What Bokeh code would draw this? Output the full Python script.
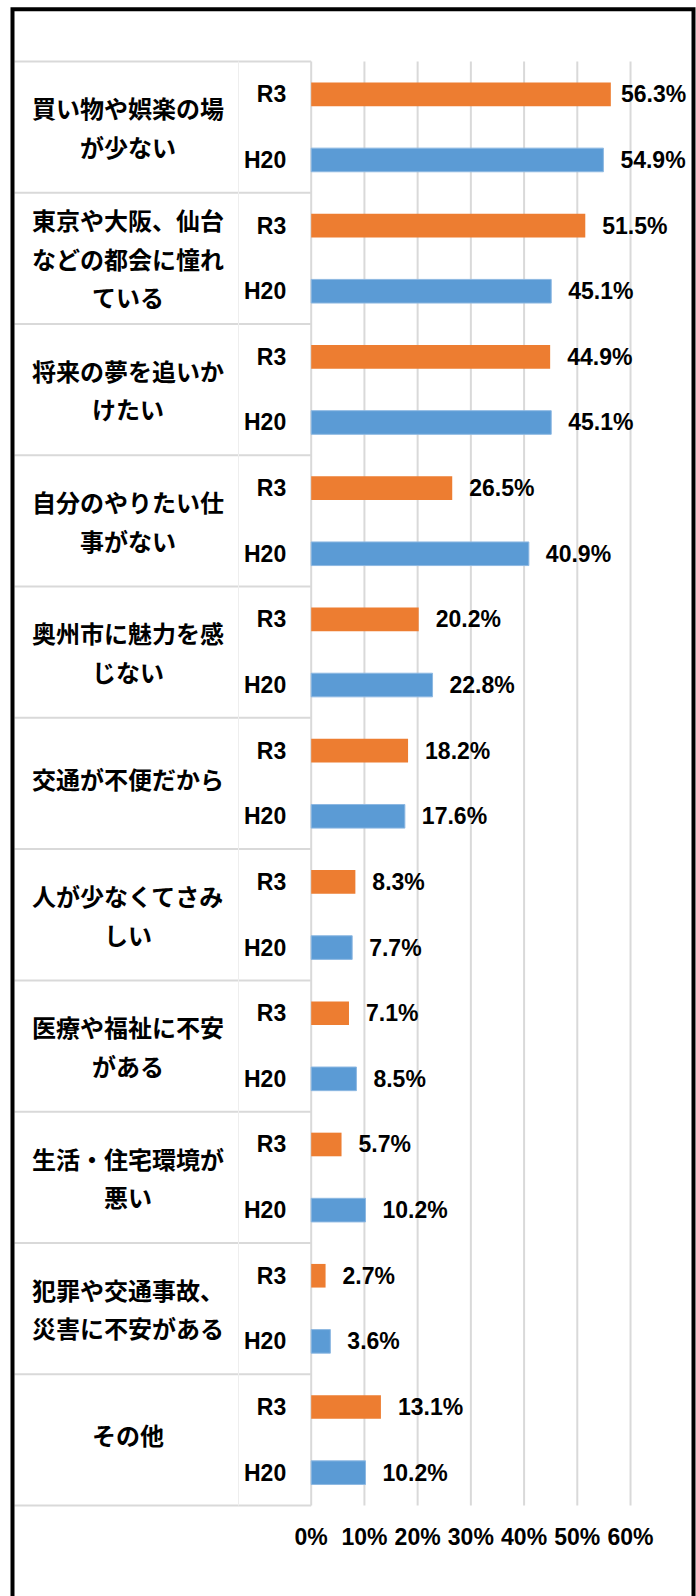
from bokeh.plotting import figure
from bokeh.models import Range1d, FixedTicker, PrintfTickFormatter, ColumnDataSource
from bokeh.core.properties import value
from bokeh.embed import file_html
from bokeh.resources import INLINE

# ---- data ----
categories = [
    "買い物や娯楽の場\nが少ない",
    "東京や大阪、仙台\nなどの都会に憧れ\nている",
    "将来の夢を追いか\nけたい",
    "自分のやりたい仕\n事がない",
    "奥州市に魅力を感\nじない",
    "交通が不便だから",
    "人が少なくてさみ\nしい",
    "医療や福祉に不安\nがある",
    "生活・住宅環境が\n悪い",
    "犯罪や交通事故、\n災害に不安がある",
    "その他",
]
series_names = ["R3", "H20"]
r3_values = [56.3, 51.5, 44.9, 26.5, 20.2, 18.2, 8.3, 7.1, 5.7, 2.7, 13.1]
h20_values = [54.9, 45.1, 45.1, 40.9, 22.8, 17.6, 7.7, 8.5, 10.2, 3.6, 10.2]
x_ticks = [0, 10, 20, 30, 40, 50, 60]

ORANGE = "#ED7D31"
BLUE = "#5B9BD5"
GRID = "#D9D9D9"
TEXT = "#000000"
JP = "Noto Sans CJK JP"
LAT = "Liberation Sans"

n = len(categories)
W, H = 696, 1596
OFF = 0  # page offset of the figure

# x: 0% at page 310.7, 5.322 px per %
px_per = 5.322
x0_page = 310.7
x_start = (OFF - x0_page) / px_per
x_end = (OFF + W - x0_page) / px_per
# y: one unit per category, top of plot (page 61) is 0, increasing downward
unit = 131.27
y_top = (OFF - 61) / unit
y_bot = (OFF + H - 61) / unit

p = figure(width=W, height=H, output_backend="svg", toolbar_location=None,
           x_range=Range1d(x_start, x_end), y_range=Range1d(y_bot, y_top),
           min_border=0, min_border_left=0, min_border_right=0,
           min_border_top=0, min_border_bottom=0)
p.outline_line_color = None
p.background_fill_color = "white"
p.border_fill_color = "white"
p.xgrid.visible = False
p.ygrid.visible = False
p.yaxis.visible = False

def xp(page_x):
    return (page_x - x0_page) / px_per

def yp(page_y):
    return (page_y - 61) / unit

# vertical gridlines inside plot area
p.segment(x0=x_ticks, x1=x_ticks, y0=[0] * len(x_ticks), y1=[n] * len(x_ticks),
          line_color=GRID, line_width=2)
# table lines of the category area
rows = list(range(n + 1))
p.segment(x0=[xp(14)] * len(rows), x1=[0] * len(rows), y0=rows, y1=rows,
          line_color=GRID, line_width=2)
p.segment(x0=[xp(238)], x1=[xp(238)], y0=[0], y1=[n], line_color="#EEEEEE", line_width=1)

# bars
idx = list(range(n))
src = ColumnDataSource(dict(
    y_r3=[i + 0.25 for i in idx], y_h20=[i + 0.75 for i in idx],
    r3=r3_values, h20=h20_values,
    r3_lab=[f"{v:.1f}%" for v in r3_values], h20_lab=[f"{v:.1f}%" for v in h20_values],
    r3_lx=[min(v, 55.0) for v in r3_values], h20_lx=[min(v, 55.0) for v in h20_values],
    cat=categories, cat_y=[i + 0.5 for i in idx],
    cat_dy=[-5 if "\n" not in c else 0 for c in categories],
    s_r3=[series_names[0]] * n, s_h20=[series_names[1]] * n,
))
bar_h = 0.18
p.hbar(y="y_r3", left=0, right="r3", height=bar_h, source=src,
       fill_color=ORANGE, line_color=None)
p.hbar(y="y_h20", left=0, right="h20", height=bar_h, source=src,
       fill_color=BLUE, line_color="#8DB8E2", line_width=1)

# value labels
for xcol, ycol, tcol in (("r3_lx", "y_r3", "r3_lab"), ("h20_lx", "y_h20", "h20_lab")):
    p.text(x=xcol, y=ycol, text=tcol, source=src, x_offset=17,
           text_font=value(LAT), text_font_style="bold", text_font_size="23px",
           text_color=TEXT, text_align="left", text_baseline="middle")

# series labels
for ycol, tcol in (("y_r3", "s_r3"), ("y_h20", "s_h20")):
    p.text(x=xp(285.7), y=ycol, text=tcol, source=src,
           text_font=value(LAT), text_font_style="bold", text_font_size="23px",
           text_color=TEXT, text_align="right", text_baseline="middle")

# category labels
p.text(x=xp(127.5), y="cat_y", text="cat", source=src, y_offset="cat_dy",
       text_font=value(JP), text_font_style="bold", text_font_size="24px",
       text_color=TEXT, text_align="center", text_baseline="middle",
       text_line_height=1.1)

# chart border
p.line(x=[xp(12), xp(12), xp(693), xp(693)], y=[y_bot + 1, yp(8.7), yp(8.7), y_bot + 1],
       line_color="black", line_width=4, line_join="miter")

# x axis drawn at bottom of plot area
ax = p.xaxis[0]
ax.fixed_location = n
ax.ticker = FixedTicker(ticks=x_ticks)
ax.formatter = PrintfTickFormatter(format="%d%%")
ax.axis_line_color = None
ax.major_tick_line_color = None
ax.minor_tick_line_color = None
ax.major_tick_out = 0
ax.major_tick_in = 0
ax.major_label_standoff = 19
ax.major_label_text_font = LAT
ax.major_label_text_font_style = "bold"
ax.major_label_text_font_size = "23px"
ax.major_label_text_color = TEXT

open("out.html", "w").write(file_html(p, INLINE))
